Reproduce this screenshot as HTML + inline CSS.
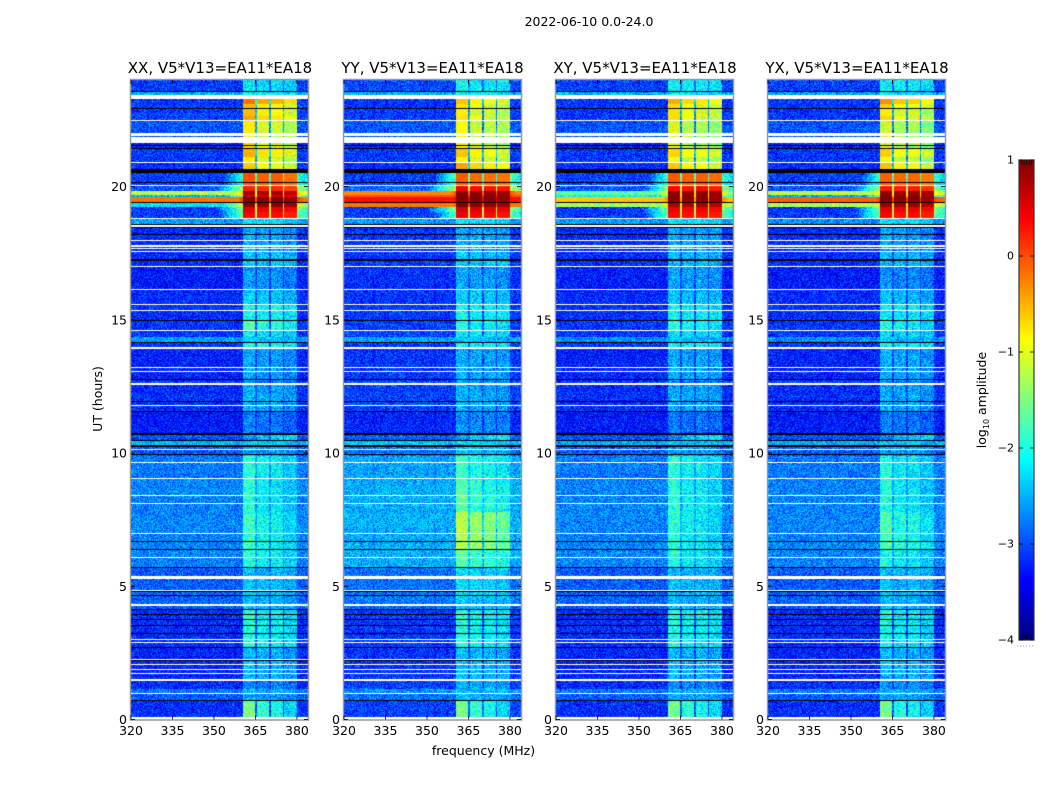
<!DOCTYPE html>
<html lang="en">
<head>
<meta charset="utf-8">
<title>2022-06-10 dynamic spectra</title>
<style>
html,body{margin:0;padding:0;background:#fff}
#figure{position:relative;width:1050px;height:800px;overflow:hidden;background:#fff}
canvas{position:absolute;display:block}
svg{position:absolute;left:0;top:0}
text{font-family:"DejaVu Sans","Liberation Sans",sans-serif;fill:#000}
</style>
</head>
<body>
<div id="figure">
<canvas id="heat-xx" width="177" height="640" style="left:131px;top:80px"></canvas>
<canvas id="heat-yy" width="177" height="640" style="left:344px;top:80px"></canvas>
<canvas id="heat-xy" width="177" height="640" style="left:556px;top:80px"></canvas>
<canvas id="heat-yx" width="177" height="640" style="left:768px;top:80px"></canvas>
<canvas id="colorbar" width="15" height="480" style="left:1019px;top:160px"></canvas>
<svg id="overlay" width="1050" height="800" viewBox="0 0 1050 800">
<text x="589" y="26" font-size="12.5" text-anchor="middle">2022-06-10 0.0-24.0</text>
<text x="483.5" y="755" font-size="12.5" text-anchor="middle">frequency (MHz)</text>
<text x="102" y="399" font-size="12.5" text-anchor="middle" transform="rotate(-90 102 399)">UT (hours)</text>
<text x="986" y="400" font-size="12.5" text-anchor="middle" transform="rotate(-90 986 400)">log<tspan font-size="8" dy="3">10</tspan><tspan dy="-3"> amplitude</tspan></text>
</svg>
</div>
<script>
var panelNames = ['XX', 'YY', 'XY', 'YX'];
var panelTitleSuffix = ', V5*V13=EA11*EA18';
var freqTicks = [320, 335, 350, 365, 380];
var utTicks = [0, 5, 10, 15, 20];
var colorbarTicks = [1, 0, -1, -2, -3, -4];

var freqMin = 320;
var freqMax = 384;
var utMax = 24;

var bandEdges = [[360.5, 365], [365.5, 370], [370.5, 375], [375.5, 380]];

var flaggedWhite = [[23.27,23.43],[22.46,22.5],[21.89,22.01],[21.62,21.85],[20.89,20.93],[20.02,20.06],[19.37,19.39],[18.78,18.82],[18.49,18.56],[17.95,17.99],[17.73,17.8],[17.64,17.68],[17.53,17.57],[16.98,17.02],[16.12,16.15],[15.55,15.59],[15.33,15.37],[14.58,14.62],[13.9,13.99],[13.19,13.24],[13.05,13.09],[12.56,12.62],[11.76,11.8],[10.12,10.16],[9.64,9.67],[9.01,9.05],[8.38,8.41],[8.09,8.12],[6.95,6.99],[6.06,6.1],[5.26,5.38],[4.82,4.86],[4.26,4.33],[2.98,3.02],[2.88,2.92],[2.23,2.27],[2.05,2.08],[1.86,1.89],[1.72,1.76],[1.46,1.53],[0.96,0.99],[0,0.11]];

var flaggedBlack = [[23.55,23.58],[23.08,23.11],[22.9,22.95],[21.52,21.56],[21.42,21.46],[20.52,20.66],[20.14,20.18],[19.39,19.43],[18.56,18.59],[18.44,18.48],[18.18,18.22],[17.22,17.27],[14.94,14.99],[14.12,14.17],[12.73,12.77],[11.91,11.95],[11.54,11.58],[10.66,10.74],[10.45,10.49],[10.24,10.29],[9.93,9.96],[6.66,6.7],[6.36,6.4],[5.68,5.73],[4.78,4.82],[4.63,4.67],[4.11,4.16],[3.92,3.95],[3.73,3.76],[3.51,3.55],[3.42,3.44],[3.21,3.26],[2.67,2.71],[2.2,2.23],[0.69,0.73]];

var levelRowTops = [24,23.58,23.27,23.1,22.9,22.64,22.46,21.62,21.42,21.1,
20.89,20.55,20.02,19.83,19.68,19.6,19.37,19.23,19.05,18.82,
18.5,17.53,16.98,16.12,15.55,14.94,14.58,14.35,14.12,13.9,
12.7,12.56,11.54,10.66,10.45,10.24,9.9,9,7.8,6.4,
5.72,4.6,4.26,4.11,2.67,1.45,1.15,0.96,0.69];

var backgroundXX = [-3.1,-2.55,-3.15,-3.15,-3.1,-3.1,-3,-3.25,-3.15,-3.15,
-3.2,-3.1,-3,-1.2,-2.5,-0.2,-2.2,-3.15,-3.15,-2.6,
-3.2,-3.2,-3.3,-3.2,-3.2,-3.15,-3.15,-2.65,-3.15,-3.25,
-3.05,-3.2,-3.3,-3,-2.5,-2.95,-2.8,-2.75,-2.75,-2.75,
-2.95,-2.9,-2.95,-3.2,-3.25,-3.2,-2.8,-2.95,-3.2];
var bandXX = [-2.3,-2.2,-0.45,-0.8,-0.8,-0.7,-1.05,-0.95,-0.75,-1.05,
-0.9,-0.1,0.15,0.75,0.6,0.95,0.9,0.45,0.3,-2.3,
-2.6,-2.45,-2.7,-2.45,-2.15,-1.95,-2.3,-2.5,-2.1,-2.65,
-2.85,-2.6,-2.85,-2.5,-2.45,-2.65,-2.15,-2.2,-2.1,-2.15,
-2.5,-2.55,-2.5,-2.15,-2.55,-2.8,-2.55,-2.65,-1.95];
var backgroundYY = [-3.05,-2.55,-3.15,-3.15,-3.1,-3.1,-3,-3.25,-3.15,-3.15,
-3.2,-3.1,-2.9,-0.3,0,0.3,-0.2,-3.15,-3.15,-2.65,
-3.15,-3.15,-3.2,-3.15,-3.15,-3.1,-3.1,-2.6,-3.1,-3.15,
-3,-3.1,-3.25,-2.95,-2.4,-2.85,-2.6,-2.55,-2.55,-2.55,
-2.85,-2.8,-2.9,-3.15,-3.15,-3.1,-2.7,-2.85,-3.1];
var bandYY = [-2.2,-2.2,-0.85,-1,-1.05,-1,-1.15,-1.1,-0.85,-1.1,
-0.7,-0.15,0.3,0.9,0.95,0.98,0.9,0.5,0.35,-2.3,
-2.6,-2.45,-2.65,-2.4,-2.2,-2.15,-2.3,-2.5,-2.15,-2.6,
-2.75,-2.6,-2.75,-2.45,-2.4,-2.5,-2.05,-1.95,-1.45,-1.9,
-2.35,-2.45,-2.45,-2.15,-2.5,-2.6,-2.5,-2.55,-1.95];
var backgroundXY = [-3.1,-2.55,-3.15,-3.15,-3.15,-3.15,-3,-3.25,-3.15,-3.15,
-3.2,-3.1,-3,-1.7,-2.1,-0.6,-1.3,-3.15,-3.15,-2.65,
-3.2,-3.2,-3.3,-3.2,-3.2,-3.15,-3.15,-2.7,-3.15,-3.25,
-3.05,-3.2,-3.3,-3,-2.55,-2.95,-2.8,-2.75,-2.75,-2.75,
-2.95,-2.9,-3,-3.2,-3.25,-3.2,-2.8,-2.95,-3.2];
var bandXY = [-2.2,-2.3,-0.7,-0.95,-0.95,-0.95,-1.25,-1.2,-0.9,-1.2,
-0.85,-0.1,0.3,0.9,0.9,0.92,0.75,0.4,0.3,-2.3,
-2.6,-2.5,-2.65,-2.45,-2.2,-2.1,-2.3,-2.5,-2.2,-2.6,
-2.85,-2.6,-2.85,-2.5,-2.45,-2.65,-2.15,-2.15,-2.15,-2.2,
-2.5,-2.55,-2.5,-2.15,-2.55,-2.75,-2.55,-2.6,-1.95];
var backgroundYX = [-3.1,-2.6,-3.15,-3.15,-3.15,-3.15,-3,-3.25,-3.15,-3.15,
-3.2,-3.1,-3,-1.2,-2.6,-0.1,-1.3,-3.15,-3.15,-2.7,
-3.2,-3.2,-3.3,-3.2,-3.2,-3.15,-3.15,-2.7,-3.15,-3.25,
-3.05,-3.2,-3.3,-3,-2.55,-2.95,-2.8,-2.75,-2.75,-2.75,
-2.95,-2.9,-3,-3.2,-3.25,-3.2,-2.8,-2.95,-3.2];
var bandYX = [-2.2,-2.3,-0.6,-0.9,-1.05,-0.95,-1.3,-1.25,-0.9,-1.2,
-0.85,-0.15,0.2,0.85,0.9,0.95,0.8,0.45,0.3,-2.3,
-2.65,-2.5,-2.75,-2.5,-2.25,-2.15,-2.35,-2.5,-2.2,-2.6,
-2.85,-2.6,-2.85,-2.55,-2.45,-2.65,-2.2,-2.2,-2,-2.2,
-2.5,-2.55,-2.5,-2.2,-2.55,-2.75,-2.55,-2.6,-2];

var bandTilt = [0,0,0.18,0.18,0.18,0.18,0.18,0.18,0.18,0.18,
0.18,0,0,0,0,0,0,0,0,0,
0,0,0,0,0,0.12,0,0,0,0,
0,0,0,-0.3,0,0,0.12,0.15,0.15,0.1,
0,0,0,0.08,0,0,0,0,0.3];

var skirtFirstRow = 11;
var skirtXX = [-1.9,-1.3,-0.6,-1.4,0.1,-1,-1.5,-1.6];
var skirtYY = [-1.7,-1.2,0,0.15,0.4,-0.1,-1.4,-1.7];
var skirtXY = [-1.9,-1.5,-1,-1.5,-0.3,-1,-1.5,-1.6];
var skirtYX = [-1.9,-1.4,-0.8,-1.6,0.1,-1,-1.5,-1.6];

var bandGainXX = [0.08, 0, 0.03, -0.08];
var bandGainYY = [0.08, 0.02, 0, -0.05];
var bandGainXY = [0.05, 0, 0.02, -0.05];
var bandGainYX = [0.07, 0, 0.03, -0.08];

/* Fixed speckle texture: the channel noise cannot be read value by value. */
var grainCoarse = [0.12,-0.21,0.05,0.27,-0.09,-0.26,0.18,0.02,-0.15,0.23,-0.04,0.1,-0.28,0.16,0.07,-0.19,0.25,-0.12,0.01,0.2,-0.24,0.09,-0.06,0.28,-0.17,0.14,-0.02,-0.22,0.21,0.04,-0.11,0.17,-0.27,0.08,0.24,-0.07,-0.16,0.13,0.03,-0.25,0.19,-0.01,0.26,-0.14,0.06,-0.2,0.11,0.22,-0.08,-0.29,0.15,0,0.24,-0.18,-0.05,0.2,-0.23,0.1,0.03,-0.13,0.18];
var grainFine = [-0.08,0.11,-0.03,0.06,-0.12,0.09,0.02,-0.1,0.13,-0.05,0.04,-0.14,0.08,0.12,-0.07,0,0.1,-0.11,0.05,-0.02,0.14,-0.09,0.03,-0.13,0.07,0.01,-0.06,0.12,-0.04,0.09,-0.12,0.06,0.02,-0.1,0.11,-0.01,-0.08,0.13,-0.05,0.04,0.08,-0.14,0.1,-0.03,0.05,-0.09,0.12];

var panelLeft = [131, 344, 556, 768];
var titleCenter = [220, 432.5, 645, 857];
var plotWidth = 177;
var plotTop = 80;
var plotBottom = 719.5;
var pxPerHour = 26.65;
var svgNS = 'http://www.w3.org/2000/svg';
var overlay = document.getElementById('overlay');
var canvasIds = ['heat-xx', 'heat-yy', 'heat-xy', 'heat-yx'];
var backgrounds = [backgroundXX, backgroundYY, backgroundXY, backgroundYX];
var bands = [bandXX, bandYY, bandXY, bandYX];
var skirts = [skirtXX, skirtYY, skirtXY, skirtYX];
var gains = [bandGainXX, bandGainYY, bandGainXY, bandGainYX];
var tiltSign = [1, 0, -0.5, -1];

function xScale(left, mhz) { return left + (mhz - freqMin) / (freqMax - freqMin) * plotWidth; }
function yScale(ut) { return plotBottom - ut * pxPerHour; }
function clamp01(v) { return v < 0 ? 0 : v > 1 ? 1 : v; }
function jet(v) {
  var x = clamp01((v + 4) / 5);
  return [
    Math.round(255 * clamp01(1.5 - Math.abs(4 * x - 3))),
    Math.round(255 * clamp01(1.5 - Math.abs(4 * x - 2))),
    Math.round(255 * clamp01(1.5 - Math.abs(4 * x - 1)))
  ];
}
function inRanges(ut, ranges) {
  for (var i = 0; i < ranges.length; i++) {
    if (ut >= ranges[i][0] && ut < ranges[i][1]) return true;
  }
  return false;
}
function levelIndex(ut) {
  for (var i = levelRowTops.length - 1; i >= 0; i--) {
    if (ut <= levelRowTops[i]) return i;
  }
  return 0;
}
function cellLevel(p, row, mhz) {
  var bg = backgrounds[p][row];
  var band = bands[p][row];
  var sk = -9;
  var si = row - skirtFirstRow;
  if (si >= 0 && si < skirts[p].length) sk = skirts[p][si];
  if (mhz < bandEdges[0][0]) {
    return Math.max(bg, sk - (bandEdges[0][0] - mhz) * 0.17);
  }
  if (mhz >= bandEdges[3][1]) {
    return Math.max(bg, sk - (mhz - bandEdges[3][1]) * 0.12);
  }
  for (var b = 0; b < bandEdges.length; b++) {
    if (mhz >= bandEdges[b][0] && mhz < bandEdges[b][1]) {
      return band + gains[p][b] + bandTilt[row] * tiltSign[b];
    }
  }
  return Math.max(bg + 0.2, band - 1.6);
}
function drawHeatmap(p) {
  var canvas = document.getElementById(canvasIds[p]);
  var ctx = canvas.getContext('2d');
  var w = canvas.width, h = canvas.height;
  var img = ctx.createImageData(w, h);
  for (var y = 0; y < h; y++) {
    var ut = (plotBottom - (plotTop + y + 0.5)) / pxPerHour;
    var white = inRanges(ut, flaggedWhite);
    var black = inRanges(ut, flaggedBlack);
    var row = levelIndex(ut);
    for (var x = 0; x < w; x++) {
      var k = (y * w + x) * 4;
      var col;
      if (black) {
        col = [0, 0, 0];
      } else if (white) {
        col = [255, 255, 255];
      } else {
        var mhz = freqMin + (x + 0.5) / plotWidth * (freqMax - freqMin);
        var v = cellLevel(p, row, mhz);
        var g = grainCoarse[(x * x * 3 + y * y * 5 + x * y + x * 7 + y * 11 + p * 17) % grainCoarse.length] + grainFine[(x * x + y * y * 2 + x * y * 3 + x + y * 5 + p * 5) % grainFine.length];
        v += v > -1 ? g * 0.2 : g * 1.35;
        col = jet(v);
      }
      img.data[k] = col[0];
      img.data[k + 1] = col[1];
      img.data[k + 2] = col[2];
      img.data[k + 3] = 255;
    }
  }
  ctx.putImageData(img, 0, 0);
}
function addLine(x1, y1, x2, y2, stroke, width) {
  var l = document.createElementNS(svgNS, 'line');
  l.setAttribute('x1', x1);
  l.setAttribute('y1', y1);
  l.setAttribute('x2', x2);
  l.setAttribute('y2', y2);
  l.setAttribute('stroke', stroke);
  l.setAttribute('stroke-width', width);
  overlay.appendChild(l);
  return l;
}
function addText(x, y, str, size, anchor) {
  var t = document.createElementNS(svgNS, 'text');
  t.setAttribute('x', x);
  t.setAttribute('y', y);
  t.setAttribute('font-size', size);
  t.setAttribute('text-anchor', anchor);
  t.textContent = str;
  overlay.appendChild(t);
  return t;
}
function drawAxes(p) {
  var left = panelLeft[p];
  var right = left + plotWidth;
  var frame = document.createElementNS(svgNS, 'rect');
  
  
  frame.setAttribute('x', left - 0.5);
  frame.setAttribute('y', plotTop - 0.5);
  frame.setAttribute('width', plotWidth + 1);
  frame.setAttribute('height', plotBottom - plotTop + 1);
  frame.setAttribute('fill', 'none');
  frame.setAttribute('stroke', '#999');
  frame.setAttribute('stroke-width', '1.5');
  overlay.appendChild(frame);

  var title = addText(titleCenter[p], 73, panelNames[p] + panelTitleSuffix, 15, 'middle');
  
  

  freqTicks.forEach(function (f) {
    var x = xScale(left, f);
    var tickBottom = addLine(x, plotBottom, x, plotBottom - 4, '#000', 0.8);
    
    
    var tickTop = addLine(x, plotTop, x, plotTop + 4, '#000', 0.8);
    
    
    var label = addText(x, 735, String(f), 12.5, 'middle');
    
    
  });
  utTicks.forEach(function (u) {
    var y = yScale(u);
    var tickLeft = addLine(left, y, left + 4, y, '#000', 0.8);
    
    
    var tickRight = addLine(right, y, right - 4, y, '#000', 0.8);
    
    
    var label = addText(left - 4, y + 4.5, String(u), 12.5, 'end');
    
    
  });
}
function cbScale(v) { return 160 + (1 - v) / 5 * 480; }
function drawColorbar() {
  var canvas = document.getElementById('colorbar');
  var ctx = canvas.getContext('2d');
  for (var y = 0; y < canvas.height; y++) {
    var c = jet(1 - (y + 0.5) / canvas.height * 5);
    ctx.fillStyle = 'rgb(' + c[0] + ',' + c[1] + ',' + c[2] + ')';
    ctx.fillRect(0, y, canvas.width, 1);
  }
  var frame = document.createElementNS(svgNS, 'rect');
  
  
  frame.setAttribute('x', 1019);
  frame.setAttribute('y', 160);
  frame.setAttribute('width', 15);
  frame.setAttribute('height', 480);
  frame.setAttribute('fill', 'none');
  frame.setAttribute('stroke', '#333');
  frame.setAttribute('stroke-width', '1.2');
  overlay.appendChild(frame);
  colorbarTicks.forEach(function (v) {
    var y = cbScale(v);
    var tl = addLine(1019, y, 1023, y, '#000', 0.8);
    
    
    var tr = addLine(1034, y, 1030, y, '#000', 0.8);
    
    
    var label = addText(1014, y + 3.5, String(v).replace('-', '\u2212'), 11, 'end');
    
    
  });
  for (var i = 0; i < 5; i++) {
    var mx = 1021.5 + i * 2.5;
    var mt = addLine(mx, 160, mx, 165, '#000', 0.7);
    
    
    var mb = addLine(mx, 635, mx, 640, '#000', 0.7);
    
    
  }
  var dots = addLine(1017, 646, 1035, 646, '#999', 1);
  
  
  dots.setAttribute('stroke-dasharray', '1 2');
}
for (var p = 0; p < panelNames.length; p++) {
  drawHeatmap(p);
  drawAxes(p);
}
drawColorbar();
</script>
</body>
</html>
